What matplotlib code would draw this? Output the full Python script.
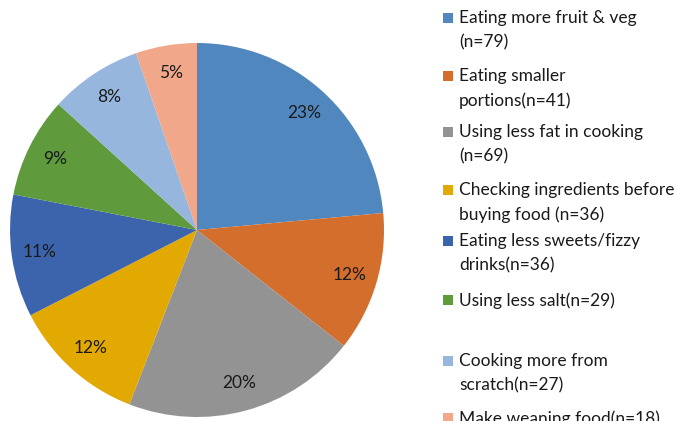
import matplotlib
matplotlib.use("Agg")
import matplotlib.pyplot as plt
from matplotlib.patches import Rectangle

shares = [23.6, 12.1, 20.3, 11.6, 10.6, 8.7, 8.0, 5.3]
pct_labels = ["23%", "12%", "20%", "12%", "11%", "9%", "8%", "5%"]
labels = [
    "Eating more fruit & veg\n(n=79)",
    "Eating smaller\nportions(n=41)",
    "Using less fat in cooking\n(n=69)",
    "Checking ingredients before\nbuying food (n=36)",
    "Eating less sweets/fizzy\ndrinks(n=36)",
    "Using less salt(n=29)",
    "Cooking more from\nscratch(n=27)",
    "Make weaning food(n=18)",
]
colors = ["#5087BE", "#D46E2C", "#939393", "#E2A902",
          "#3C64AD", "#5F9B3D", "#96B6DE", "#F1A78A"]

plt.rcParams['font.family'] = ['Lato', 'DejaVu Sans']

fig = plt.figure(figsize=(6.75, 4.21), dpi=100)
ax = fig.add_axes([10 / 675, 4 / 421, 374 / 675, 374 / 421])
wedges, texts, autotexts = ax.pie(
    shares, colors=colors, startangle=90, counterclock=False,
    autopct="%1.0f%%", pctdistance=0.85,
    textprops=dict(fontsize=12.5, color="#1a1a1a"),
    wedgeprops=dict(linewidth=0))
for t, s in zip(autotexts, pct_labels):
    t.set_text(s)
ax.set_xlim(-1, 1)
ax.set_ylim(-1, 1)
ax.set_aspect("equal")

# Legend drawn by hand (uneven spacing in the original)
legend_tops = [18, 76, 132, 190, 241, 300, 361, 418]  # pixel y of first line
for lab, col, ty in zip(labels, colors, legend_tops):
    yf = 1 - ty / 421
    fig.patches.append(Rectangle((443 / 675, yf - 5 / 421), 10 / 675, 10 / 421,
                                 transform=fig.transFigure, facecolor=col,
                                 edgecolor="none"))
    fig.text(459 / 675, yf + 8 / 421, lab, fontsize=12.5, color="#1a1a1a",
             va="top", ha="left", linespacing=1.62)

fig.savefig("out.png", dpi=100)
